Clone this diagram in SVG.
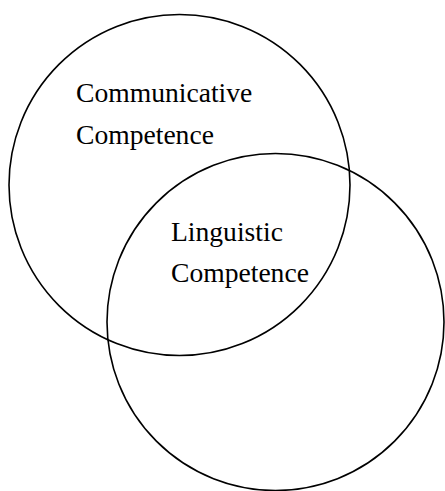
<svg xmlns="http://www.w3.org/2000/svg" width="445" height="491" viewBox="0 0 445 491">
<style>
.c{fill:none;stroke:#000;stroke-width:1.6}
.t{font-family:"Liberation Serif","Times New Roman",serif;font-size:27.6px;fill:#000}
</style>
<rect width="445" height="491" fill="#fff"/>
<g id="communicative">
<circle class="c" cx="179.5" cy="185" r="170.5"/>
<text class="t" x="76" y="102">Communicative</text>
<text class="t" x="76" y="144">Competence</text>
</g>
<g id="linguistic">
<circle class="c" cx="275.5" cy="322" r="168.5"/>
<text class="t" x="171" y="241">Linguistic</text>
<text class="t" x="171" y="282">Competence</text>
</g>
<g id="connectors"></g>
</svg>
